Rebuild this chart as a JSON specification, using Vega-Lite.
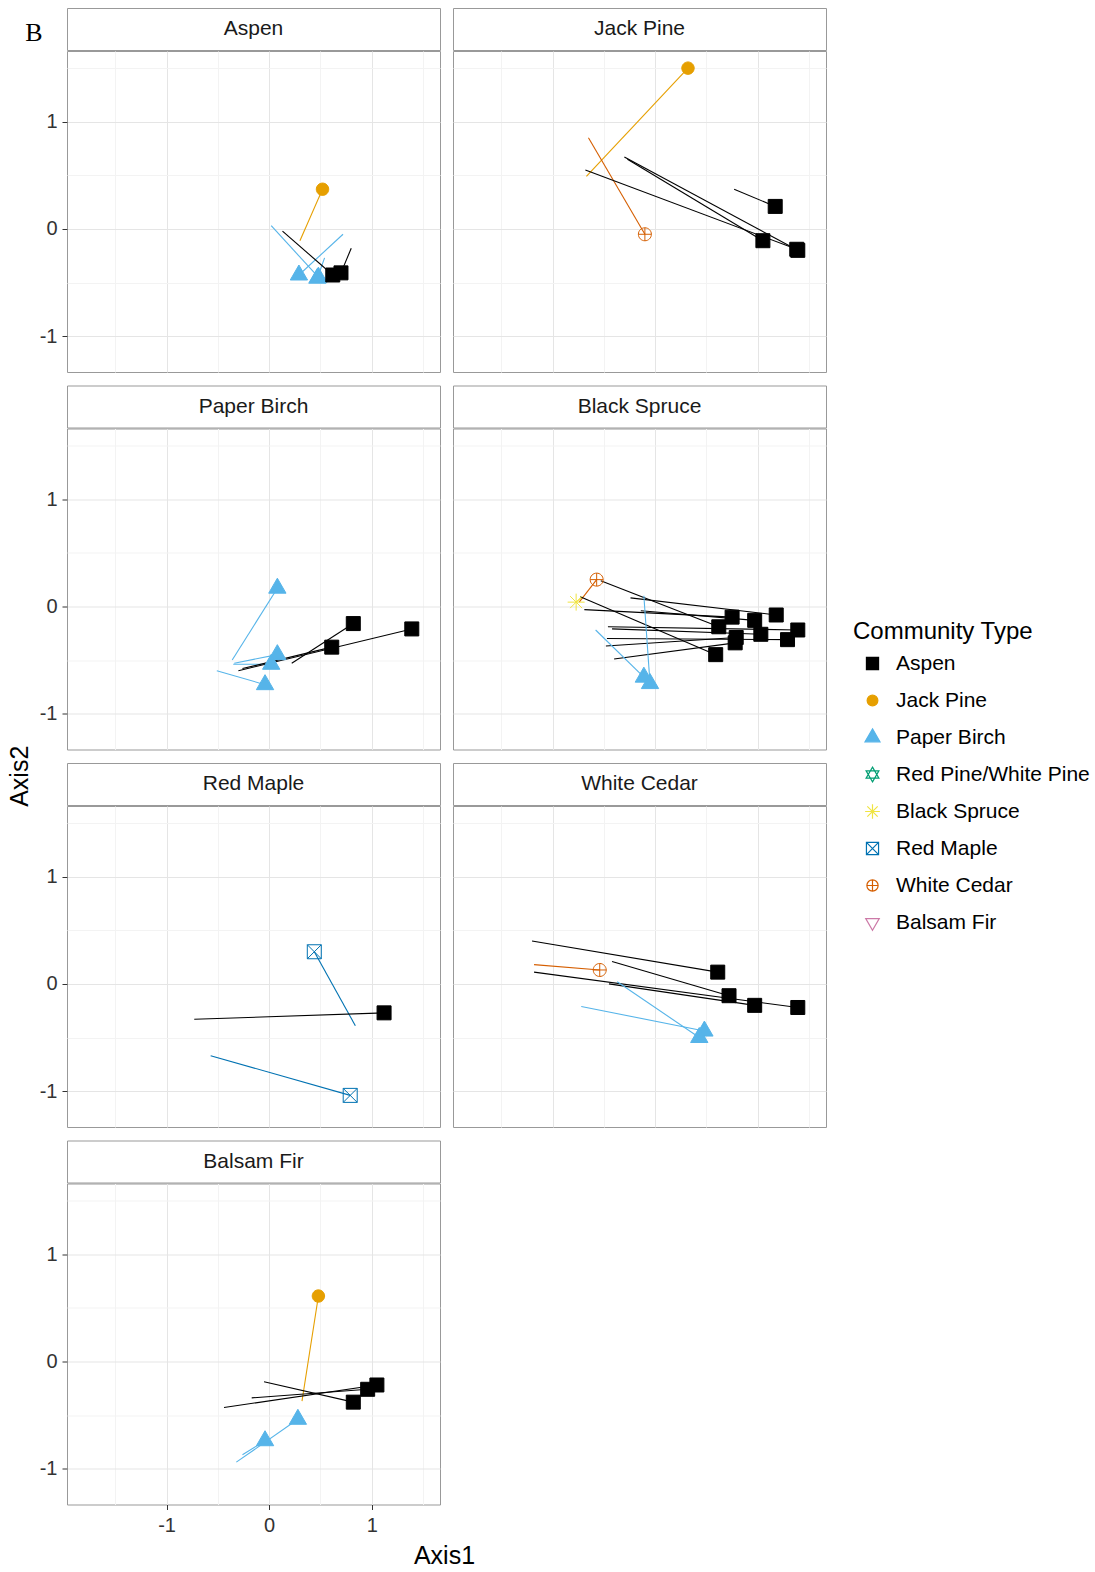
{
  "$schema": "https://vega.github.io/schema/vega-lite/v6.json",
  "padding": {"left": 7, "top": 7, "right": 0, "bottom": 0},
  "title": {"text": "Axis2", "orient": "left", "anchor": "middle", "baseline": "middle", "fontSize": 25, "fontWeight": "normal", "color": "#000000", "offset": -20, "dx": 12},
  "config": {
    "font": "Liberation Sans",
    "view": {"stroke": "#999999", "strokeWidth": 1},
    "axis": {"labelFontSize": 20, "labelColor": "#333333", "tickColor": "#333333", "tickSize": 5, "labelPadding": 5, "titleFontWeight": "normal", "titleColor": "#000000", "titleFontSize": 25},
    "legend": {"titleFontSize": 24, "titleFontWeight": "normal", "titleColor": "#000000", "labelFontSize": 21, "labelColor": "#000000", "padding": 0, "titleLimit": 400, "labelLimit": 400}
  },
  "datasets": {
    "moves": [
      {"panel": "Aspen", "type": "Jack Pine", "x0": 0.30, "y0": -0.11, "x1": 0.52, "y1": 0.37},
      {"panel": "Aspen", "type": "Paper Birch", "x0": 0.02, "y0": 0.03, "x1": 0.48, "y1": -0.45},
      {"panel": "Aspen", "type": "Paper Birch", "x0": 0.72, "y0": -0.05, "x1": 0.29, "y1": -0.43},
      {"panel": "Aspen", "type": "Paper Birch", "x0": 0.54, "y0": -0.27, "x1": 0.47, "y1": -0.46},
      {"panel": "Aspen", "type": "Aspen", "x0": 0.13, "y0": -0.02, "x1": 0.62, "y1": -0.43},
      {"panel": "Aspen", "type": "Aspen", "x0": 0.80, "y0": -0.18, "x1": 0.70, "y1": -0.41},

      {"panel": "Jack Pine", "type": "Jack Pine", "x0": -0.67, "y0": 0.49, "x1": 0.32, "y1": 1.50},
      {"panel": "Jack Pine", "type": "White Cedar", "x0": -0.65, "y0": 0.85, "x1": -0.10, "y1": -0.05},
      {"panel": "Jack Pine", "type": "Aspen", "x0": 0.77, "y0": 0.37, "x1": 1.17, "y1": 0.21},
      {"panel": "Jack Pine", "type": "Aspen", "x0": -0.30, "y0": 0.67, "x1": 1.39, "y1": -0.20},
      {"panel": "Jack Pine", "type": "Aspen", "x0": -0.27, "y0": 0.65, "x1": 1.05, "y1": -0.11},
      {"panel": "Jack Pine", "type": "Aspen", "x0": -0.68, "y0": 0.55, "x1": 1.38, "y1": -0.19},

      {"panel": "Paper Birch", "type": "Paper Birch", "x0": -0.36, "y0": -0.50, "x1": 0.08, "y1": 0.17},
      {"panel": "Paper Birch", "type": "Paper Birch", "x0": -0.34, "y0": -0.53, "x1": 0.08, "y1": -0.45},
      {"panel": "Paper Birch", "type": "Paper Birch", "x0": -0.35, "y0": -0.54, "x1": 0.02, "y1": -0.54},
      {"panel": "Paper Birch", "type": "Paper Birch", "x0": -0.51, "y0": -0.60, "x1": -0.04, "y1": -0.73},
      {"panel": "Paper Birch", "type": "Aspen", "x0": -0.30, "y0": -0.60, "x1": 1.39, "y1": -0.21},
      {"panel": "Paper Birch", "type": "Aspen", "x0": -0.26, "y0": -0.58, "x1": 0.61, "y1": -0.38},
      {"panel": "Paper Birch", "type": "Aspen", "x0": 0.22, "y0": -0.53, "x1": 0.82, "y1": -0.16},

      {"panel": "Black Spruce", "type": "White Cedar", "x0": -0.74, "y0": 0.04, "x1": -0.57, "y1": 0.25},
      {"panel": "Black Spruce", "type": "Black Spruce", "x0": -0.72, "y0": 0.08, "x1": -0.77, "y1": 0.04},
      {"panel": "Black Spruce", "type": "Aspen", "x0": -0.53, "y0": 0.24, "x1": 0.62, "y1": -0.19},
      {"panel": "Black Spruce", "type": "Aspen", "x0": -0.73, "y0": 0.09, "x1": 0.59, "y1": -0.45},
      {"panel": "Black Spruce", "type": "Aspen", "x0": -0.69, "y0": -0.03, "x1": 0.75, "y1": -0.10},
      {"panel": "Black Spruce", "type": "Aspen", "x0": -0.24, "y0": 0.08, "x1": 1.18, "y1": -0.08},
      {"panel": "Black Spruce", "type": "Aspen", "x0": -0.42, "y0": -0.21, "x1": 1.03, "y1": -0.26},
      {"panel": "Black Spruce", "type": "Aspen", "x0": -0.47, "y0": -0.30, "x1": 1.29, "y1": -0.31},
      {"panel": "Black Spruce", "type": "Aspen", "x0": -0.48, "y0": -0.37, "x1": 0.79, "y1": -0.29},
      {"panel": "Black Spruce", "type": "Aspen", "x0": -0.40, "y0": -0.49, "x1": 0.78, "y1": -0.34},
      {"panel": "Black Spruce", "type": "Aspen", "x0": -0.14, "y0": -0.04, "x1": 0.97, "y1": -0.13},
      {"panel": "Black Spruce", "type": "Aspen", "x0": -0.46, "y0": -0.19, "x1": 1.39, "y1": -0.22},
      {"panel": "Black Spruce", "type": "Paper Birch", "x0": -0.58, "y0": -0.22, "x1": -0.11, "y1": -0.66},
      {"panel": "Black Spruce", "type": "Paper Birch", "x0": -0.11, "y0": 0.10, "x1": -0.05, "y1": -0.72},

      {"panel": "Red Maple", "type": "Red Maple", "x0": 0.84, "y0": -0.39, "x1": 0.44, "y1": 0.30},
      {"panel": "Red Maple", "type": "Red Maple", "x0": -0.57, "y0": -0.67, "x1": 0.79, "y1": -1.04},
      {"panel": "Red Maple", "type": "Aspen", "x0": -0.73, "y0": -0.33, "x1": 1.12, "y1": -0.27},

      {"panel": "White Cedar", "type": "White Cedar", "x0": -1.18, "y0": 0.18, "x1": -0.54, "y1": 0.13},
      {"panel": "White Cedar", "type": "Aspen", "x0": -1.20, "y0": 0.40, "x1": 0.61, "y1": 0.11},
      {"panel": "White Cedar", "type": "Aspen", "x0": -0.42, "y0": 0.21, "x1": 0.72, "y1": -0.11},
      {"panel": "White Cedar", "type": "Aspen", "x0": -1.18, "y0": 0.11, "x1": 1.39, "y1": -0.22},
      {"panel": "White Cedar", "type": "Aspen", "x0": -0.45, "y0": 0.00, "x1": 0.97, "y1": -0.20},
      {"panel": "White Cedar", "type": "Paper Birch", "x0": -0.72, "y0": -0.21, "x1": 0.48, "y1": -0.44},
      {"panel": "White Cedar", "type": "Paper Birch", "x0": -0.37, "y0": 0.02, "x1": 0.43, "y1": -0.50},

      {"panel": "Balsam Fir", "type": "Jack Pine", "x0": 0.32, "y0": -0.37, "x1": 0.48, "y1": 0.61},
      {"panel": "Balsam Fir", "type": "Aspen", "x0": -0.44, "y0": -0.43, "x1": 1.05, "y1": -0.22},
      {"panel": "Balsam Fir", "type": "Aspen", "x0": -0.17, "y0": -0.34, "x1": 0.96, "y1": -0.26},
      {"panel": "Balsam Fir", "type": "Aspen", "x0": -0.05, "y0": -0.19, "x1": 0.82, "y1": -0.38},
      {"panel": "Balsam Fir", "type": "Paper Birch", "x0": -0.32, "y0": -0.94, "x1": 0.28, "y1": -0.54},
      {"panel": "Balsam Fir", "type": "Paper Birch", "x0": -0.26, "y0": -0.87, "x1": -0.04, "y1": -0.74}
    ]
  },
  "vconcat": [
    {"hconcat": [
      {"vconcat": [
        {"width": 373, "height": 42, "data": {"values": [{"panel": "Aspen"}]},
         "title": {"text": "B", "orient": "left", "frame": "group", "angle": 0, "anchor": "middle", "align": "right", "baseline": "middle", "font": "Liberation Serif", "fontSize": 26, "fontWeight": "normal", "color": "#000000", "offset": 7, "dy": 4},
         "mark": {"type": "text", "fontSize": 21, "color": "#1a1a1a"},
         "encoding": {"x": {"datum": 0, "type": "quantitative", "scale": {"domain": [-1, 1]}, "axis": null}, "text": {"field": "panel", "type": "nominal"}}},
        {"width": 373, "height": 321, "data": {"name": "moves"}, "transform": [{"filter": "datum.panel === 'Aspen'"}],
         "encoding": {"stroke": {"field": "type", "type": "nominal", "title": "Community Type", "scale": {"domain": ["Aspen", "Jack Pine", "Paper Birch", "Red Pine/White Pine", "Black Spruce", "Red Maple", "White Cedar", "Balsam Fir"], "range": ["#000000", "#E69F00", "#56B4E9", "#009E73", "#F0E442", "#0072B2", "#D55E00", "#CC79A7"]}, "legend": {"title": "Community Type", "orient": "none", "legendX": 786, "legendY": 612, "symbolSize": 300, "symbolStrokeWidth": 1.2, "rowPadding": 15, "titlePadding": 9, "symbolOffset": 9, "labelOffset": 13}}},
         "layer": [
          {"mark": {"type": "rule", "strokeWidth": 1.1},
           "encoding": {
            "x": {"field": "x0", "type": "quantitative", "scale": {"domain": [-1.97, 1.665], "nice": false, "zero": false}, "axis": {"values": [-1.5, -1, -0.5, 0, 0.5, 1, 1.5], "grid": true, "gridColor": {"condition": {"test": "datum.value % 1 !== 0", "value": "#f3f3f3"}, "value": "#e5e5e5"}, "labels": false, "ticks": false, "domain": false, "title": null}},
            "y": {"field": "y0", "type": "quantitative", "scale": {"domain": [-1.335, 1.66], "nice": false, "zero": false}, "axis": {"values": [-1, -0.5, 0, 0.5, 1, 1.5], "grid": true, "gridColor": {"condition": {"test": "datum.value % 1 !== 0", "value": "#f3f3f3"}, "value": "#e5e5e5"}, "domain": false, "labelExpr": "datum.value % 1 === 0 ? '' + datum.value : ''", "tickOpacity": {"condition": {"test": "datum.value % 1 !== 0", "value": 0}, "value": 1}, "title": null}},
            "x2": {"field": "x1"}, "y2": {"field": "y1"}}},
          {"mark": {"type": "point", "size": 400, "opacity": 1, "strokeWidth": 1},
           "encoding": {
            "x": {"field": "x1", "type": "quantitative", "scale": {"domain": [-1.97, 1.665], "nice": false, "zero": false}},
            "y": {"field": "y1", "type": "quantitative", "scale": {"domain": [-1.335, 1.66], "nice": false, "zero": false}},
            "fill": {"field": "type", "type": "nominal", "title": "Community Type", "scale": {"domain": ["Aspen", "Jack Pine", "Paper Birch", "Red Pine/White Pine", "Black Spruce", "Red Maple", "White Cedar", "Balsam Fir"], "range": ["#000000", "#E69F00", "#56B4E9", "transparent", "transparent", "transparent", "transparent", "transparent"]}, "legend": {"title": "Community Type", "orient": "none", "legendX": 786, "legendY": 612, "symbolSize": 300, "symbolStrokeWidth": 1.2, "rowPadding": 15, "titlePadding": 9, "symbolOffset": 9, "labelOffset": 13}},
            "shape": {"field": "type", "type": "nominal", "title": "Community Type", "scale": {"domain": ["Aspen", "Jack Pine", "Paper Birch", "Red Pine/White Pine", "Black Spruce", "Red Maple", "White Cedar", "Balsam Fir"], "range": ["M-0.7,-0.7H0.7V0.7H-0.7Z", "M0.62,0A0.62,0.62,0,1,1,-0.62,0A0.62,0.62,0,1,1,0.62,0Z", "M0,-1L0.866,0.5L-0.866,0.5Z", "M0,-0.85L0.74,0.43L-0.74,0.43ZM0,0.85L0.74,-0.43L-0.74,-0.43Z", "M-0.85,0H0.85M0,-0.85V0.85M-0.6,-0.6L0.6,0.6M-0.6,0.6L0.6,-0.6", "M-0.7,-0.7H0.7V0.7H-0.7ZM-0.7,-0.7L0.7,0.7M-0.7,0.7L0.7,-0.7", "M0.65,0A0.65,0.65,0,1,1,-0.65,0A0.65,0.65,0,1,1,0.65,0ZM-0.65,0H0.65M0,-0.65V0.65", "M0,0.9L0.78,-0.45L-0.78,-0.45Z"]}, "legend": {"title": "Community Type", "orient": "none", "legendX": 786, "legendY": 612, "symbolSize": 300, "symbolStrokeWidth": 1.2, "rowPadding": 15, "titlePadding": 9, "symbolOffset": 9, "labelOffset": 13}}}}
         ]}
      ], "spacing": -1},
      {"vconcat": [
        {"width": 373, "height": 42, "data": {"values": [{"panel": "Jack Pine"}]},
         "mark": {"type": "text", "fontSize": 21, "color": "#1a1a1a"},
         "encoding": {"x": {"datum": 0, "type": "quantitative", "scale": {"domain": [-1, 1]}, "axis": null}, "text": {"field": "panel", "type": "nominal"}}},
        {"width": 373, "height": 321, "data": {"name": "moves"}, "transform": [{"filter": "datum.panel === 'Jack Pine'"}],
         "encoding": {"stroke": {"field": "type", "type": "nominal", "title": "Community Type"}},
         "layer": [
          {"mark": {"type": "rule", "strokeWidth": 1.1},
           "encoding": {
            "x": {"field": "x0", "type": "quantitative", "scale": {"domain": [-1.97, 1.665], "nice": false, "zero": false}, "axis": {"values": [-1.5, -1, -0.5, 0, 0.5, 1, 1.5], "grid": true, "gridColor": {"condition": {"test": "datum.value % 1 !== 0", "value": "#f3f3f3"}, "value": "#e5e5e5"}, "labels": false, "ticks": false, "domain": false, "title": null}},
            "y": {"field": "y0", "type": "quantitative", "scale": {"domain": [-1.335, 1.66], "nice": false, "zero": false}, "axis": {"values": [-1, -0.5, 0, 0.5, 1, 1.5], "grid": true, "gridColor": {"condition": {"test": "datum.value % 1 !== 0", "value": "#f3f3f3"}, "value": "#e5e5e5"}, "labels": false, "ticks": false, "domain": false, "title": null}},
            "x2": {"field": "x1"}, "y2": {"field": "y1"}}},
          {"mark": {"type": "point", "size": 400, "opacity": 1, "strokeWidth": 1},
           "encoding": {
            "x": {"field": "x1", "type": "quantitative", "scale": {"domain": [-1.97, 1.665], "nice": false, "zero": false}},
            "y": {"field": "y1", "type": "quantitative", "scale": {"domain": [-1.335, 1.66], "nice": false, "zero": false}},
            "fill": {"field": "type", "type": "nominal", "title": "Community Type"},
            "shape": {"field": "type", "type": "nominal", "title": "Community Type"}}}
         ]}
      ], "spacing": -1}
    ], "spacing": 11},
    {"hconcat": [
      {"vconcat": [
        {"width": 373, "height": 42, "data": {"values": [{"panel": "Paper Birch"}]},
         "mark": {"type": "text", "fontSize": 21, "color": "#1a1a1a"},
         "encoding": {"x": {"datum": 0, "type": "quantitative", "scale": {"domain": [-1, 1]}, "axis": null}, "text": {"field": "panel", "type": "nominal"}}},
        {"width": 373, "height": 321, "data": {"name": "moves"}, "transform": [{"filter": "datum.panel === 'Paper Birch'"}],
         "encoding": {"stroke": {"field": "type", "type": "nominal", "title": "Community Type"}},
         "layer": [
          {"mark": {"type": "rule", "strokeWidth": 1.1},
           "encoding": {
            "x": {"field": "x0", "type": "quantitative", "scale": {"domain": [-1.97, 1.665], "nice": false, "zero": false}, "axis": {"values": [-1.5, -1, -0.5, 0, 0.5, 1, 1.5], "grid": true, "gridColor": {"condition": {"test": "datum.value % 1 !== 0", "value": "#f3f3f3"}, "value": "#e5e5e5"}, "labels": false, "ticks": false, "domain": false, "title": null}},
            "y": {"field": "y0", "type": "quantitative", "scale": {"domain": [-1.335, 1.66], "nice": false, "zero": false}, "axis": {"values": [-1, -0.5, 0, 0.5, 1, 1.5], "grid": true, "gridColor": {"condition": {"test": "datum.value % 1 !== 0", "value": "#f3f3f3"}, "value": "#e5e5e5"}, "domain": false, "labelExpr": "datum.value % 1 === 0 ? '' + datum.value : ''", "tickOpacity": {"condition": {"test": "datum.value % 1 !== 0", "value": 0}, "value": 1}, "title": null}},
            "x2": {"field": "x1"}, "y2": {"field": "y1"}}},
          {"mark": {"type": "point", "size": 400, "opacity": 1, "strokeWidth": 1},
           "encoding": {
            "x": {"field": "x1", "type": "quantitative", "scale": {"domain": [-1.97, 1.665], "nice": false, "zero": false}},
            "y": {"field": "y1", "type": "quantitative", "scale": {"domain": [-1.335, 1.66], "nice": false, "zero": false}},
            "fill": {"field": "type", "type": "nominal", "title": "Community Type"},
            "shape": {"field": "type", "type": "nominal", "title": "Community Type"}}}
         ]}
      ], "spacing": -1},
      {"vconcat": [
        {"width": 373, "height": 42, "data": {"values": [{"panel": "Black Spruce"}]},
         "mark": {"type": "text", "fontSize": 21, "color": "#1a1a1a"},
         "encoding": {"x": {"datum": 0, "type": "quantitative", "scale": {"domain": [-1, 1]}, "axis": null}, "text": {"field": "panel", "type": "nominal"}}},
        {"width": 373, "height": 321, "data": {"name": "moves"}, "transform": [{"filter": "datum.panel === 'Black Spruce'"}],
         "encoding": {"stroke": {"field": "type", "type": "nominal", "title": "Community Type"}},
         "layer": [
          {"mark": {"type": "rule", "strokeWidth": 1.1},
           "encoding": {
            "x": {"field": "x0", "type": "quantitative", "scale": {"domain": [-1.97, 1.665], "nice": false, "zero": false}, "axis": {"values": [-1.5, -1, -0.5, 0, 0.5, 1, 1.5], "grid": true, "gridColor": {"condition": {"test": "datum.value % 1 !== 0", "value": "#f3f3f3"}, "value": "#e5e5e5"}, "labels": false, "ticks": false, "domain": false, "title": null}},
            "y": {"field": "y0", "type": "quantitative", "scale": {"domain": [-1.335, 1.66], "nice": false, "zero": false}, "axis": {"values": [-1, -0.5, 0, 0.5, 1, 1.5], "grid": true, "gridColor": {"condition": {"test": "datum.value % 1 !== 0", "value": "#f3f3f3"}, "value": "#e5e5e5"}, "labels": false, "ticks": false, "domain": false, "title": null}},
            "x2": {"field": "x1"}, "y2": {"field": "y1"}}},
          {"mark": {"type": "point", "size": 400, "opacity": 1, "strokeWidth": 1},
           "encoding": {
            "x": {"field": "x1", "type": "quantitative", "scale": {"domain": [-1.97, 1.665], "nice": false, "zero": false}},
            "y": {"field": "y1", "type": "quantitative", "scale": {"domain": [-1.335, 1.66], "nice": false, "zero": false}},
            "fill": {"field": "type", "type": "nominal", "title": "Community Type"},
            "shape": {"field": "type", "type": "nominal", "title": "Community Type"}}}
         ]}
      ], "spacing": -1}
    ], "spacing": 11},
    {"hconcat": [
      {"vconcat": [
        {"width": 373, "height": 42, "data": {"values": [{"panel": "Red Maple"}]},
         "mark": {"type": "text", "fontSize": 21, "color": "#1a1a1a"},
         "encoding": {"x": {"datum": 0, "type": "quantitative", "scale": {"domain": [-1, 1]}, "axis": null}, "text": {"field": "panel", "type": "nominal"}}},
        {"width": 373, "height": 321, "data": {"name": "moves"}, "transform": [{"filter": "datum.panel === 'Red Maple'"}],
         "encoding": {"stroke": {"field": "type", "type": "nominal", "title": "Community Type"}},
         "layer": [
          {"mark": {"type": "rule", "strokeWidth": 1.1},
           "encoding": {
            "x": {"field": "x0", "type": "quantitative", "scale": {"domain": [-1.97, 1.665], "nice": false, "zero": false}, "axis": {"values": [-1.5, -1, -0.5, 0, 0.5, 1, 1.5], "grid": true, "gridColor": {"condition": {"test": "datum.value % 1 !== 0", "value": "#f3f3f3"}, "value": "#e5e5e5"}, "labels": false, "ticks": false, "domain": false, "title": null}},
            "y": {"field": "y0", "type": "quantitative", "scale": {"domain": [-1.335, 1.66], "nice": false, "zero": false}, "axis": {"values": [-1, -0.5, 0, 0.5, 1, 1.5], "grid": true, "gridColor": {"condition": {"test": "datum.value % 1 !== 0", "value": "#f3f3f3"}, "value": "#e5e5e5"}, "domain": false, "labelExpr": "datum.value % 1 === 0 ? '' + datum.value : ''", "tickOpacity": {"condition": {"test": "datum.value % 1 !== 0", "value": 0}, "value": 1}, "title": null}},
            "x2": {"field": "x1"}, "y2": {"field": "y1"}}},
          {"mark": {"type": "point", "size": 400, "opacity": 1, "strokeWidth": 1},
           "encoding": {
            "x": {"field": "x1", "type": "quantitative", "scale": {"domain": [-1.97, 1.665], "nice": false, "zero": false}},
            "y": {"field": "y1", "type": "quantitative", "scale": {"domain": [-1.335, 1.66], "nice": false, "zero": false}},
            "fill": {"field": "type", "type": "nominal", "title": "Community Type"},
            "shape": {"field": "type", "type": "nominal", "title": "Community Type"}}}
         ]}
      ], "spacing": -1},
      {"vconcat": [
        {"width": 373, "height": 42, "data": {"values": [{"panel": "White Cedar"}]},
         "mark": {"type": "text", "fontSize": 21, "color": "#1a1a1a"},
         "encoding": {"x": {"datum": 0, "type": "quantitative", "scale": {"domain": [-1, 1]}, "axis": null}, "text": {"field": "panel", "type": "nominal"}}},
        {"width": 373, "height": 321, "data": {"name": "moves"}, "transform": [{"filter": "datum.panel === 'White Cedar'"}],
         "encoding": {"stroke": {"field": "type", "type": "nominal", "title": "Community Type"}},
         "layer": [
          {"mark": {"type": "rule", "strokeWidth": 1.1},
           "encoding": {
            "x": {"field": "x0", "type": "quantitative", "scale": {"domain": [-1.97, 1.665], "nice": false, "zero": false}, "axis": {"values": [-1.5, -1, -0.5, 0, 0.5, 1, 1.5], "grid": true, "gridColor": {"condition": {"test": "datum.value % 1 !== 0", "value": "#f3f3f3"}, "value": "#e5e5e5"}, "labels": false, "ticks": false, "domain": false, "title": null}},
            "y": {"field": "y0", "type": "quantitative", "scale": {"domain": [-1.335, 1.66], "nice": false, "zero": false}, "axis": {"values": [-1, -0.5, 0, 0.5, 1, 1.5], "grid": true, "gridColor": {"condition": {"test": "datum.value % 1 !== 0", "value": "#f3f3f3"}, "value": "#e5e5e5"}, "labels": false, "ticks": false, "domain": false, "title": null}},
            "x2": {"field": "x1"}, "y2": {"field": "y1"}}},
          {"mark": {"type": "point", "size": 400, "opacity": 1, "strokeWidth": 1},
           "encoding": {
            "x": {"field": "x1", "type": "quantitative", "scale": {"domain": [-1.97, 1.665], "nice": false, "zero": false}},
            "y": {"field": "y1", "type": "quantitative", "scale": {"domain": [-1.335, 1.66], "nice": false, "zero": false}},
            "fill": {"field": "type", "type": "nominal", "title": "Community Type"},
            "shape": {"field": "type", "type": "nominal", "title": "Community Type"}}}
         ]}
      ], "spacing": -1}
    ], "spacing": 11},
    {"vconcat": [
      {"width": 373, "height": 42, "data": {"values": [{"panel": "Balsam Fir"}]},
       "mark": {"type": "text", "fontSize": 21, "color": "#1a1a1a"},
       "encoding": {"x": {"datum": 0, "type": "quantitative", "scale": {"domain": [-1, 1]}, "axis": null}, "text": {"field": "panel", "type": "nominal"}}},
      {"width": 373, "height": 321, "data": {"name": "moves"}, "transform": [{"filter": "datum.panel === 'Balsam Fir'"}],
       "encoding": {"stroke": {"field": "type", "type": "nominal", "title": "Community Type"}},
       "layer": [
        {"mark": {"type": "rule", "strokeWidth": 1.1},
         "encoding": {
          "x": {"field": "x0", "type": "quantitative", "scale": {"domain": [-1.97, 1.665], "nice": false, "zero": false}, "axis": {"values": [-1.5, -1, -0.5, 0, 0.5, 1, 1.5], "grid": true, "gridColor": {"condition": {"test": "datum.value % 1 !== 0", "value": "#f3f3f3"}, "value": "#e5e5e5"}, "domain": false, "labelExpr": "datum.value % 1 === 0 ? '' + datum.value : ''", "tickOpacity": {"condition": {"test": "datum.value % 1 !== 0", "value": 0}, "value": 1}, "labelPadding": 6, "title": "Axis1", "titleX": 377, "titleY": 51, "titleAlign": "center", "titleBaseline": "middle"}},
          "y": {"field": "y0", "type": "quantitative", "scale": {"domain": [-1.335, 1.66], "nice": false, "zero": false}, "axis": {"values": [-1, -0.5, 0, 0.5, 1, 1.5], "grid": true, "gridColor": {"condition": {"test": "datum.value % 1 !== 0", "value": "#f3f3f3"}, "value": "#e5e5e5"}, "domain": false, "labelExpr": "datum.value % 1 === 0 ? '' + datum.value : ''", "tickOpacity": {"condition": {"test": "datum.value % 1 !== 0", "value": 0}, "value": 1}, "title": null}},
          "x2": {"field": "x1"}, "y2": {"field": "y1"}}},
        {"mark": {"type": "point", "size": 400, "opacity": 1, "strokeWidth": 1},
         "encoding": {
          "x": {"field": "x1", "type": "quantitative", "scale": {"domain": [-1.97, 1.665], "nice": false, "zero": false}},
          "y": {"field": "y1", "type": "quantitative", "scale": {"domain": [-1.335, 1.66], "nice": false, "zero": false}},
          "fill": {"field": "type", "type": "nominal", "title": "Community Type"},
          "shape": {"field": "type", "type": "nominal", "title": "Community Type"}}}
       ]}
    ], "spacing": -1}
  ],
  "spacing": 11.5
}
